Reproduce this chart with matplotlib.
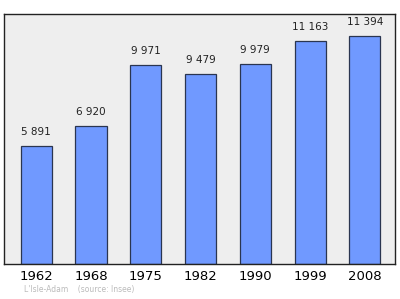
from matplotlib import pyplot as plt

years = ["1962", "1968", "1975", "1982", "1990", "1999", "2008"]
population = [5891, 6920, 9971, 9479, 9979, 11163, 11394]
value_labels = ["5 891", "6 920", "9 971", "9 479", "9 979", "11 163", "11 394"]


def main():
    fig = plt.figure(figsize=(4, 2.99), dpi=100)
    ax = fig.add_axes([0.01, 0.117, 0.9775, 0.836])
    ax.set_facecolor("#eeeeee")
    x = list(range(len(years)))
    ax.bar(x, population, width=0.57, color="#7099ff", edgecolor="#2a3550", linewidth=0.9)
    for i, v in enumerate(population):
        ax.text(i, v + 450, value_labels[i], ha="center", va="bottom", fontsize=7.5, color="#222222")
    ax.set_xlim(-0.59, 6.55)
    ax.set_ylim(0, 12500)
    ax.set_yticks([])
    ax.set_xticks(x)
    ax.set_xticklabels(years, fontsize=9.5)
    ax.tick_params(axis="x", length=0, pad=4)
    for s in ax.spines.values():
        s.set_color("#222222")
        s.set_linewidth(1)
    fig.text(0.06, 0.022, "L'Isle-Adam    (source: Insee)", fontsize=5.5, color="#bbbbbb")
    fig.savefig("out.png", dpi=100)


if __name__ == "__main__":
    main()
